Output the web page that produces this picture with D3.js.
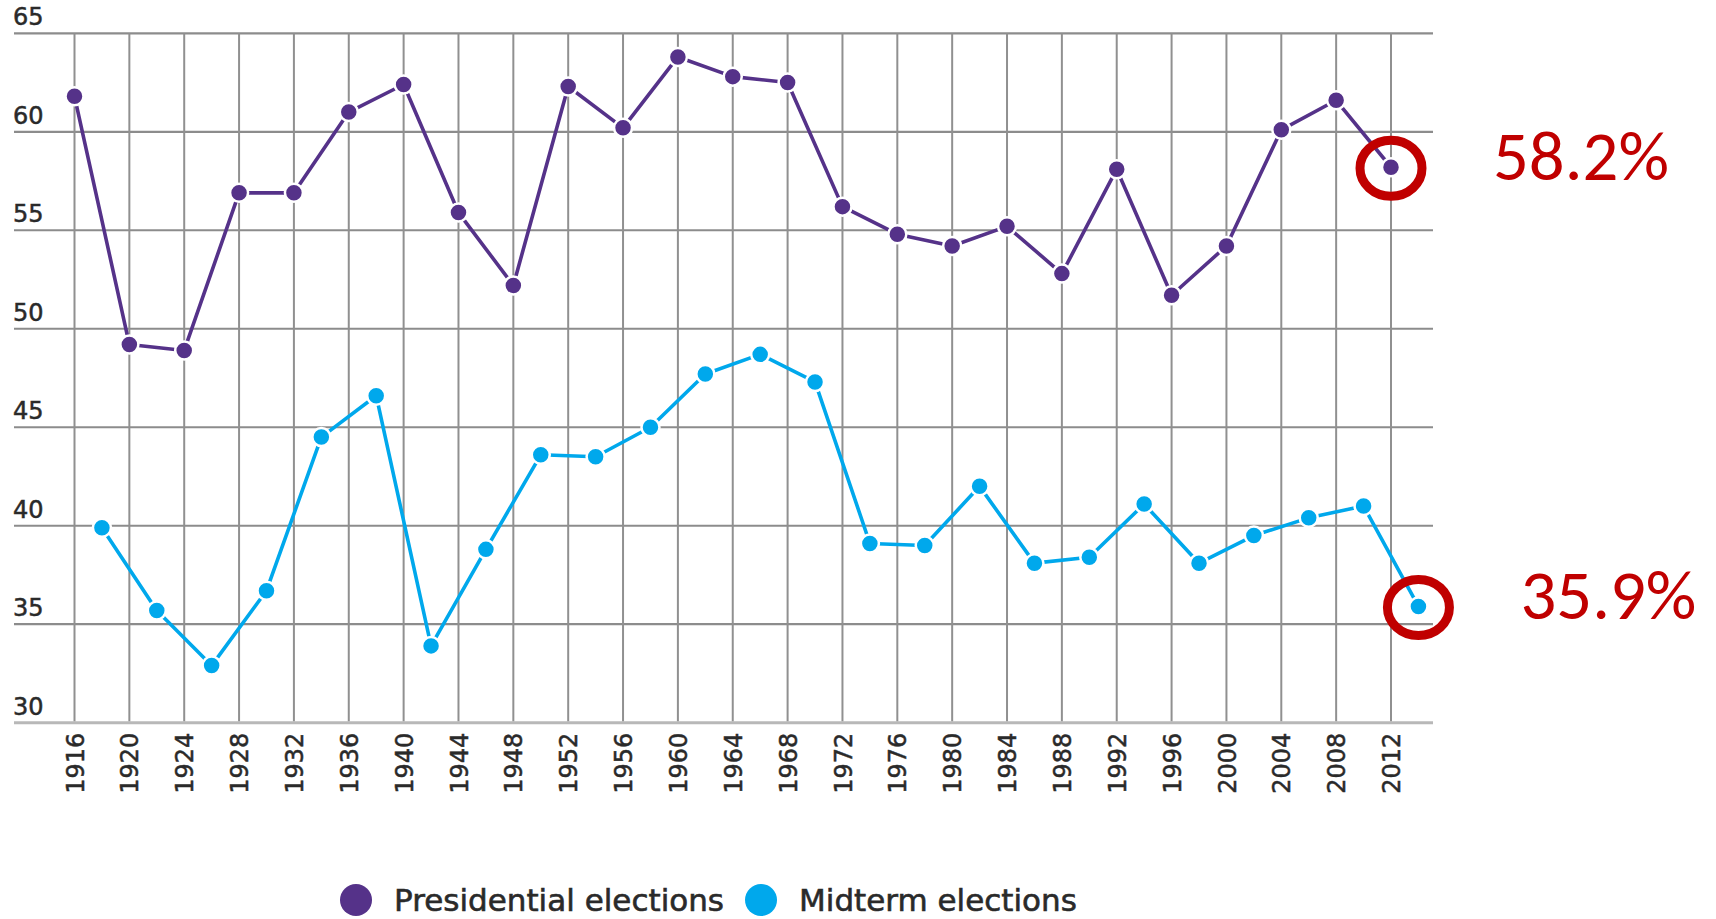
<!DOCTYPE html>
<html>
<head>
<meta charset="utf-8">
<script src="https://cdn.jsdelivr.net/npm/d3@7/dist/d3.min.js"></script>
<style>
  html, body { margin: 0; padding: 0; background: #ffffff; }
  svg { display: block; }
</style>
</head>
<body>
<svg id="chart" width="1716" height="919"></svg>
<script>
// ---- data ----
const presYears  = [1916,1920,1924,1928,1932,1936,1940,1944,1948,1952,1956,1960,1964,1968,1972,1976,1980,1984,1988,1992,1996,2000,2004,2008,2012];
const presValues = [61.8,49.2,48.9,56.9,56.9,61.0,62.4,55.9,52.2,62.3,60.2,63.8,62.8,62.5,56.2,54.8,54.2,55.2,52.8,58.1,51.7,54.2,60.1,61.6,58.2];
const midYears   = [1918,1922,1926,1930,1934,1938,1942,1946,1950,1954,1958,1962,1966,1970,1974,1978,1982,1986,1990,1994,1998,2002,2006,2010,2014];
const midValues  = [39.9,35.7,32.9,36.7,44.5,46.6,33.9,38.8,43.6,43.5,45.0,47.7,48.7,47.3,39.1,39.0,42.0,38.1,38.4,41.1,38.1,39.5,40.4,41.0,35.9];
const yTicks     = [30,35,40,45,50,55,60,65];
const xTicks     = presYears;
const seriesNames  = ["Presidential elections", "Midterm elections"];
const seriesColors = ["#553289", "#00a8ec"];
const callouts   = [
  { year: 2012, value: 58.2, label: "58.2%" },
  { year: 2014, value: 35.9, label: "35.9%" }
];

// ---- layout ----
const svg = d3.select("#chart");
const x = d3.scaleLinear().domain([1916, 2012]).range([74.5, 1391]);
const y = d3.scaleLinear().domain([30, 65]).range([722.7, 33.3]);
const gridLeft = 14, gridRight = 1433;
const labelFont = "'DejaVu Sans', Verdana, sans-serif";
const textColor = "#2a2a2a";

// horizontal grid lines
svg.append("g").selectAll("line")
  .data(yTicks)
  .join("line")
  .attr("x1", gridLeft).attr("x2", gridRight)
  .attr("y1", d => y(d)).attr("y2", d => y(d))
  .attr("stroke", d => d === 30 ? "#b8b8b8" : "#8c8c8c")
  .attr("stroke-width", d => d === 30 ? 3 : 2.2);

// vertical grid lines
svg.append("g").selectAll("line")
  .data(xTicks)
  .join("line")
  .attr("x1", d => x(d)).attr("x2", d => x(d))
  .attr("y1", y(65)).attr("y2", y(30) - 1.5)
  .attr("stroke", "#909090")
  .attr("stroke-width", 2);

// y labels (sitting above grid lines)
svg.append("g").selectAll("text")
  .data(yTicks)
  .join("text")
  .attr("x", 13)
  .attr("y", d => y(d) - 8)
  .attr("font-family", labelFont)
  .attr("font-size", 24)
  .attr("fill", textColor)
  .attr("stroke", textColor)
  .attr("stroke-width", 0.5)
  .text(d => d);

// x axis labels
const xAxis = d3.axisBottom(x)
  .tickValues(xTicks)
  .tickFormat(d3.format("d"))
  .tickSize(0);
const gx = svg.append("g")
  .attr("transform", `translate(0,${y(30)})`)
  .call(xAxis);
gx.select(".domain").remove();
gx.selectAll("text")
  .attr("transform", "rotate(-90)")
  .attr("text-anchor", "end")
  .attr("x", -10)
  .attr("y", 0)
  .attr("dy", "0.36em")
  .attr("font-family", labelFont)
  .attr("font-size", 24)
  .attr("fill", textColor)
  .attr("stroke", textColor)
  .attr("stroke-width", 0.5);

// series
const series = [
  { name: seriesNames[0], color: seriesColors[0], pts: presYears.map((yr, i) => ({ year: yr, value: presValues[i] })) },
  { name: seriesNames[1], color: seriesColors[1], pts: midYears.map((yr, i) => ({ year: yr, value: midValues[i] })) }
];
const line = d3.line().x(d => x(d.year)).y(d => y(d.value));

series.forEach(s => {
  svg.append("path")
    .datum(s.pts)
    .attr("d", line)
    .attr("fill", "none")
    .attr("stroke", s.color)
    .attr("stroke-width", 3.6)
    .attr("stroke-linejoin", "round");
  svg.append("g").selectAll("circle")
    .data(s.pts)
    .join("circle")
    .attr("cx", d => x(d.year))
    .attr("cy", d => y(d.value))
    .attr("r", 9)
    .attr("fill", s.color)
    .attr("stroke", "#ffffff")
    .attr("stroke-width", 2.5);
});

// callouts
const cg = svg.append("g");
cg.selectAll("ellipse")
  .data(callouts)
  .join("ellipse")
  .attr("cx", d => x(d.year))
  .attr("cy", d => y(d.value) + 1)
  .attr("rx", 31)
  .attr("ry", 28)
  .attr("fill", "none")
  .attr("stroke", "#c00000")
  .attr("stroke-width", 9);
cg.selectAll("text")
  .data(callouts)
  .join("text")
  .attr("x", d => x(d.year) + 102)
  .attr("y", d => y(d.value) + 13)
  .attr("font-family", "Carlito, 'Open Sans', 'Noto Sans', sans-serif")
  .attr("font-size", 70)
  .attr("fill", "#c00000")
  .attr("textLength", 176)
  .attr("lengthAdjust", "spacingAndGlyphs")
  .text(d => d.label);

// legend
const lg = svg.append("g");
let lx = 340;
const ly = 900;
series.forEach((s, i) => {
  lg.append("circle")
    .attr("cx", lx + 16).attr("cy", ly).attr("r", 16)
    .attr("fill", s.color);
  const t = lg.append("text")
    .attr("x", lx + 16 + 16 + 22)
    .attr("y", ly + 11)
    .attr("font-family", labelFont)
    .attr("font-size", 31)
    .attr("fill", textColor)
    .attr("stroke", textColor)
    .attr("stroke-width", 0.6)
    .text(s.name);
  lx = lx + 54 + t.node().getComputedTextLength() + 21;
});
</script>
</body>
</html>
